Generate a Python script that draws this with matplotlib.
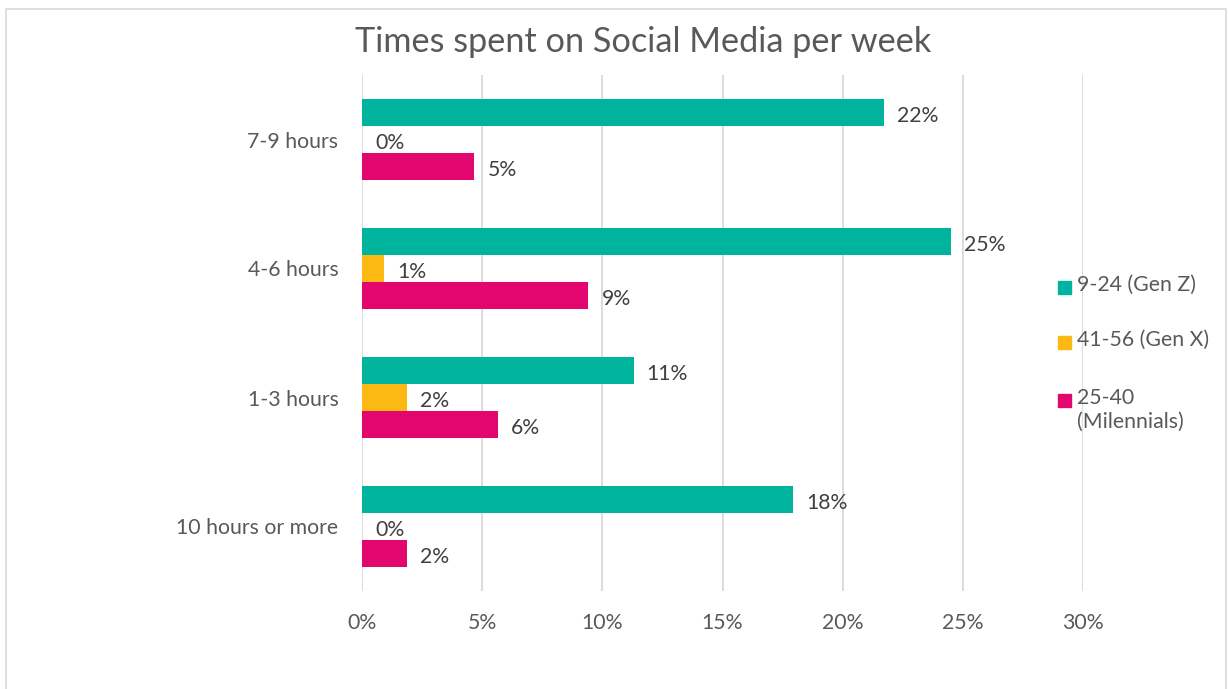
import matplotlib
matplotlib.use("Agg")
import matplotlib.pyplot as plt
from matplotlib.patches import Rectangle
import numpy as np

plt.rcParams["font.family"] = ["Lato", "DejaVu Sans"]

# Categories listed bottom to top
categories = ["10 hours or more", "1-3 hours", "4-6 hours", "7-9 hours"]
series_names = ["9-24 (Gen Z)", "41-56 (Gen X)", "25-40\n(Milennials)"]
gen_z = [17.95, 11.3, 24.52, 21.7]
gen_x = [0.0, 1.87, 0.92, 0.0]
millennials = [1.87, 5.65, 9.42, 4.68]
x_ticks = [0, 5, 10, 15, 20, 25, 30]
colors = ["#00B39D", "#FDB913", "#E3066F"]

W, H = 1229, 689
fig = plt.figure(figsize=(W / 100, H / 100), dpi=100)
fig.patch.set_facecolor("white")

# light frame around the chart area
fig.patches.append(Rectangle((6 / W, -0.05), (1226 - 6) / W, 1.05 - 9 / H,
                             transform=fig.transFigure, fill=False,
                             edgecolor="#D9D9D9", linewidth=1.2))

ax = fig.add_axes([362 / W, 1 - 591 / H, (1083 - 362) / W, (591 - 75) / H])

y = np.arange(len(categories))
bh = 0.205
step = 0.21
series = [gen_z, gen_x, millennials]
offsets = [step, 0.0, -step]
fs = 15.3

for vals, off, col in zip(series, offsets, colors):
    bars = ax.barh(y + off, vals, height=bh, color=col, zorder=3)
    for rect, v in zip(bars, vals):
        ax.annotate(f"{v:.0f}%", xy=(rect.get_width(), rect.get_y() + rect.get_height() / 2),
                    xytext=(9.5, -2.5), textcoords="offset points",
                    ha="left", va="center", fontsize=fs, color="#404040")

ax.set_xlim(0, 30)
ax.set_ylim(-0.5, 3.5)
ax.set_xticks(x_ticks)
ax.set_xticklabels([f"{t}%" for t in x_ticks])
ax.set_yticks(y)
ax.set_yticklabels(categories)
ax.tick_params(axis="x", length=0, pad=15.5, labelsize=fs, labelcolor="#595959")
ax.tick_params(axis="y", length=0, pad=17, labelsize=fs, labelcolor="#595959")
ax.grid(axis="x", color="#D9D9D9", linewidth=1.3, zorder=0)
for s in ax.spines.values():
    s.set_visible(False)

fig.text(643 / W, 1 - 42 / H, "Times spent on Social Media per week",
         ha="center", va="center", fontsize=24.7, color="#595959")

# legend entries to the right of the plot
legend_y = [287, 342, 400]
for name, col, ly in zip(series_names, colors, legend_y):
    fig.patches.append(Rectangle((1058 / W, 1 - (ly + 7) / H), 13 / W, 13 / H,
                                 transform=fig.transFigure, color=col))
    fig.text(1077 / W, 1 - (ly - 12) / H, name, ha="left", va="top",
             fontsize=fs, color="#595959", linespacing=1.25)

fig.savefig("out.png", dpi=100)
